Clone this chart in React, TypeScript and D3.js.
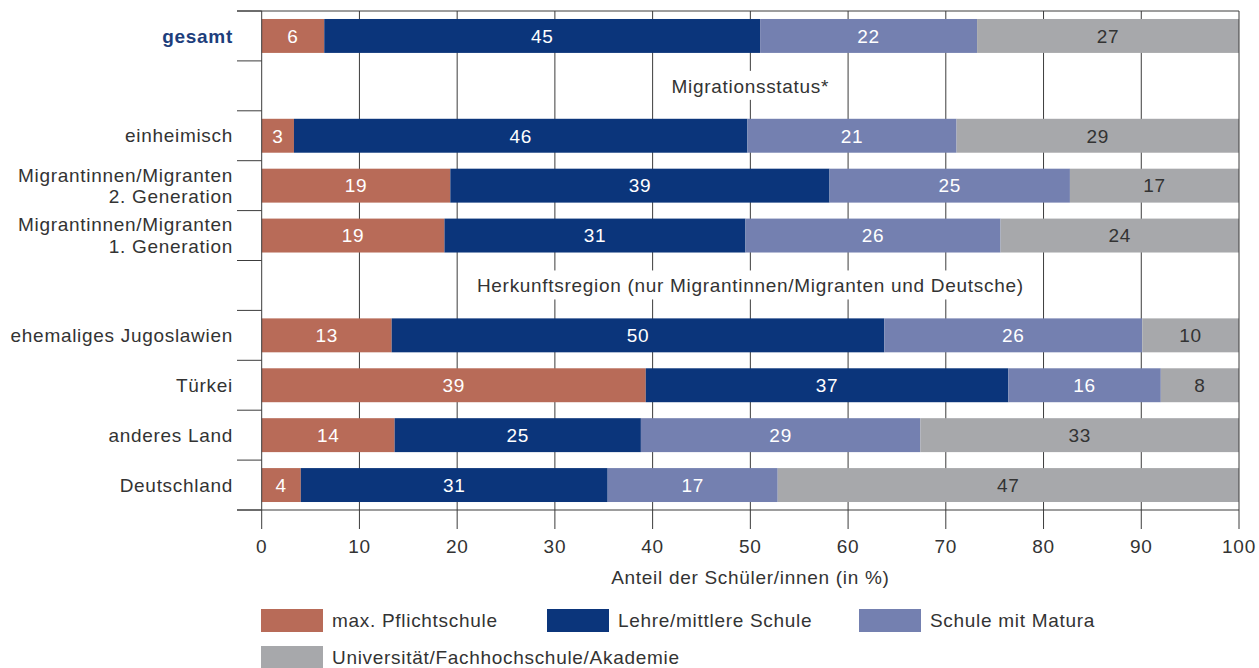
import React from "react";
import * as d3 from "d3";

// Rows of the chart, top to bottom; section headers sit in their own rows
const rowKeys = [
  "gesamt",
  "hdrMigration",
  "einheimisch",
  "mig2",
  "mig1",
  "hdrHerkunft",
  "jugoslawien",
  "tuerkei",
  "anderes",
  "deutschland",
];

const rowLabels: Record<string, string[]> = {
  gesamt: ["gesamt"],
  einheimisch: ["einheimisch"],
  mig2: ["Migrantinnen/Migranten", "2. Generation"],
  mig1: ["Migrantinnen/Migranten", "1. Generation"],
  jugoslawien: ["ehemaliges Jugoslawien"],
  tuerkei: ["Türkei"],
  anderes: ["anderes Land"],
  deutschland: ["Deutschland"],
};

const sectionHeaders: Record<string, string> = {
  hdrMigration: "Migrationsstatus*",
  hdrHerkunft: "Herkunftsregion (nur Migrantinnen/Migranten und Deutsche)",
};

// Bar rows, in the order of the value arrays below
const categories = [
  "gesamt",
  "einheimisch",
  "mig2",
  "mig1",
  "jugoslawien",
  "tuerkei",
  "anderes",
  "deutschland",
];

// Share of pupils (%) by highest parental education
const pflichtschule = [6.4, 3.3, 19.3, 18.7, 13.3, 39.3, 13.6, 4.0];
const lehreMittlere = [44.6, 46.4, 38.8, 30.8, 50.4, 37.1, 25.2, 31.4];
const matura = [22.2, 21.4, 24.6, 26.1, 26.4, 15.6, 28.6, 17.4];
const hochschule = [26.8, 28.9, 17.3, 24.4, 9.9, 8.0, 32.6, 47.2];

const seriesNames = [
  "max. Pflichtschule",
  "Lehre/mittlere Schule",
  "Schule mit Matura",
  "Universität/Fachhochschule/Akademie",
];
const seriesColors = ["#b86b58", "#0b357b", "#7480b0", "#a7a8ab"];
const labelColors = ["#ffffff", "#ffffff", "#ffffff", "#333333"];

const xTicks = [0, 10, 20, 30, 40, 50, 60, 70, 80, 90, 100];
const xTitle = "Anteil der Schüler/innen (in %)";

const FONT = "'Liberation Sans', Arial, sans-serif";
const FS = 19;
const LS = 0.7;
const TEXT = "#333333";
const LINE = "#3c3c3c";

function textWidth(s: string, size: number, weight = "normal") {
  const c = document.createElement("canvas").getContext("2d");
  if (!c) return s.length * size * 0.5;
  c.font = `${weight} ${size}px ${FONT}`;
  return c.measureText(s).width + s.length * LS;
}

export default function App() {
  const W = 1259;
  const H = 668;
  const plotLeft = 261.7;
  const plotRight = 1239;
  const plotTop = 11;
  const plotBottom = 510;
  const tickLeft = 237;

  const x = d3.scaleLinear().domain([0, 100]).range([plotLeft, plotRight]);
  const y = d3
    .scaleBand<string>()
    .domain(rowKeys)
    .range([plotTop, plotBottom])
    .paddingInner(0.32)
    .paddingOuter(0.16);
  const step = y.step();
  const bw = y.bandwidth();
  const rowCenter = (k: string) => (y(k) as number) + bw / 2;

  const table = categories.map((c, i) => ({
    key: c,
    values: [pflichtschule[i], lehreMittlere[i], matura[i], hochschule[i]],
  }));

  const stack = d3
    .stack<{ key: string; values: number[] }, number>()
    .keys([0, 1, 2, 3])
    .value((d, k) => d.values[k]);
  const stacked = stack(table);

  const boundaries = d3.range(rowKeys.length + 1).map((i) => plotTop + i * step);

  const legendItems = [
    { i: 0, x: 261, y: 609 },
    { i: 1, x: 547, y: 609 },
    { i: 2, x: 859, y: 609 },
    { i: 3, x: 261, y: 646 },
  ];

  return (
    <svg
      width={W}
      height={H}
      style={{
        position: "absolute",
        left: 0,
        top: 0,
        fontFamily: FONT,
        letterSpacing: `${LS}px`,
      }}
    >
      <rect width={W} height={H} fill="#fff" />

      {/* vertical gridlines */}
      {xTicks.slice(1, -1).map((t) => (
        <line
          key={"g" + t}
          x1={x(t)}
          x2={x(t)}
          y1={plotTop}
          y2={plotBottom}
          stroke={LINE}
          strokeWidth={1}
        />
      ))}

      {/* section headers on a white plate over the grid */}
      {Object.keys(sectionHeaders).map((k) => {
        const label = sectionHeaders[k];
        const cy = rowCenter(k);
        const w = textWidth(label, FS) + 24;
        return (
          <g key={k}>
            <rect x={x(50) - w / 2} y={cy - 15} width={w} height={29} fill="#fff" />
            <text
              x={x(50)}
              y={cy}
              dy="0.35em"
              textAnchor="middle"
              fontSize={FS}
              fill={TEXT}
            >
              {label}
            </text>
          </g>
        );
      })}

      {/* stacked bars */}
      {stacked.map((layer, si) => (
        <g key={"s" + si}>
          {layer.map((seg, ri) => {
            const key = table[ri].key;
            const x0 = x(seg[0]);
            const x1 = x(seg[1]);
            return (
              <g key={key}>
                <rect
                  x={x0}
                  y={y(key)}
                  width={x1 - x0}
                  height={bw}
                  fill={seriesColors[si]}
                />
                <text
                  x={(x0 + x1) / 2}
                  y={rowCenter(key)}
                  dy="0.36em"
                  textAnchor="middle"
                  fontSize={FS}
                  fill={labelColors[si]}
                >
                  {Math.round(seg[1] - seg[0])}
                </text>
              </g>
            );
          })}
        </g>
      ))}

      {/* frame: top, right, left axis, bottom axis */}
      <line x1={tickLeft} x2={plotRight} y1={plotTop} y2={plotTop} stroke={LINE} />
      <line x1={plotRight} x2={plotRight} y1={plotTop} y2={plotBottom} stroke={LINE} />
      <line x1={plotLeft} x2={plotLeft} y1={plotTop} y2={plotBottom} stroke={LINE} />
      <line x1={tickLeft} x2={plotRight} y1={plotBottom} y2={plotBottom} stroke={LINE} />

      {/* row separators on the category axis */}
      {boundaries.map((b, i) => (
        <line key={"b" + i} x1={tickLeft} x2={plotLeft} y1={b} y2={b} stroke={LINE} />
      ))}

      {/* category labels */}
      {categories.map((k) => {
        const lines = rowLabels[k];
        const cy = rowCenter(k);
        const isTotal = k === "gesamt";
        return (
          <text
            key={"l" + k}
            x={233}
            textAnchor="end"
            fontSize={FS}
            fontWeight={isTotal ? "bold" : "normal"}
            fill={isTotal ? "#1d3e7c" : TEXT}
          >
            {lines.map((ln, j) => (
              <tspan
                key={j}
                x={233}
                y={cy + (j - (lines.length - 1) / 2) * 21.5}
                dy="0.35em"
              >
                {ln}
              </tspan>
            ))}
          </text>
        );
      })}

      {/* x axis */}
      {xTicks.map((t) => (
        <g key={"t" + t}>
          <line
            x1={x(t)}
            x2={x(t)}
            y1={plotBottom}
            y2={plotBottom + 19}
            stroke={LINE}
          />
          <text
            x={x(t)}
            y={546}
            dy="0.35em"
            textAnchor="middle"
            fontSize={FS}
            fill={TEXT}
          >
            {t}
          </text>
        </g>
      ))}
      <text
        x={x(50)}
        y={577}
        dy="0.35em"
        textAnchor="middle"
        fontSize={FS}
        fill={TEXT}
      >
        {xTitle}
      </text>

      {/* legend */}
      {legendItems.map((it) => (
        <g key={"lg" + it.i}>
          <rect x={it.x} y={it.y} width={62} height={23} fill={seriesColors[it.i]} />
          <text
            x={it.x + 71}
            y={it.y + 11.5}
            dy="0.35em"
            fontSize={FS}
            fill={TEXT}
          >
            {seriesNames[it.i]}
          </text>
        </g>
      ))}
    </svg>
  );
}
